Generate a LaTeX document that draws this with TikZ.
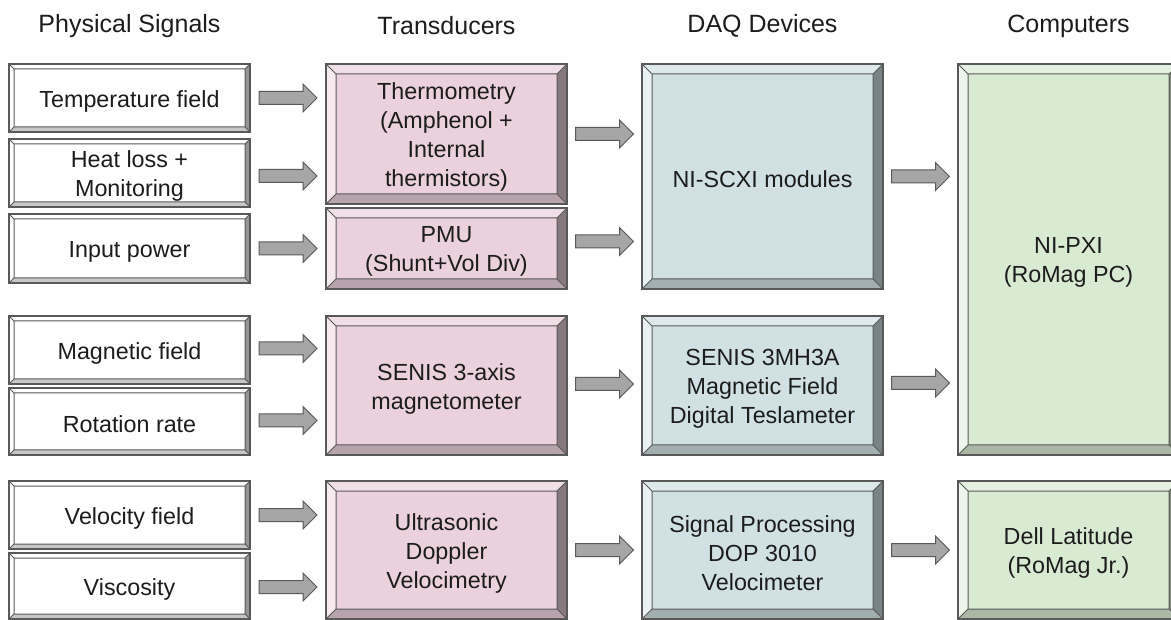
\documentclass[tikz,border=0pt]{standalone}
\usepackage{fontspec}
\setmainfont{Liberation Sans}
\usetikzlibrary{calc}
\definecolor{pinkf}{HTML}{EAD1DC}
\definecolor{bluef}{HTML}{D0E0E3}
\definecolor{greenf}{HTML}{D9EAD3}
\definecolor{edge}{HTML}{595959}
\definecolor{arrfill}{HTML}{A6A6A6}
\definecolor{txt}{HTML}{1C1C1C}
\tikzset{
  bevelbox/.style n args={2}{draw=edge, line width=1.4pt, fill=#1, inner sep=0pt,
    path picture={
      \coordinate (pNW) at (path picture bounding box.north west);
      \coordinate (pSE) at (path picture bounding box.south east);
      \coordinate (pNE) at (pSE |- pNW);
      \coordinate (pSW) at (pNW |- pSE);
      \coordinate (iNW) at ($(pNW)+(#2pt,-#2pt)$);
      \coordinate (iSE) at ($(pSE)+(-#2pt,#2pt)$);
      \coordinate (iNE) at (iSE |- iNW);
      \coordinate (iSW) at (iNW |- iSE);
      \fill[#1!70!white] (pNW) -- (pNE) -- (iNE) -- (iNW) -- cycle;
      \fill[#1!45!white] (pNW) -- (pSW) -- (iSW) -- (iNW) -- cycle;
      \fill[#1!78!black] (pSW) -- (pSE) -- (iSE) -- (iSW) -- cycle;
      \fill[#1!58!black] (pNE) -- (pSE) -- (iSE) -- (iNE) -- cycle;
      \draw[edge, line width=1pt] (iNW) rectangle (iSE)
        (pNW) -- (iNW) (pNE) -- (iNE) (pSW) -- (iSW) (pSE) -- (iSE);
    }},
  boxtext/.style={text=txt, align=center, font=\fontsize{23.3}{29}\selectfont,
    inner sep=0pt, yshift=-3pt},
  t/.style={label={[boxtext]center:{#1}}},
  sigbox/.style={bevelbox={white}{5}, minimum width=241pt},
  trbox/.style={bevelbox={pinkf}{10}, minimum width=241pt},
  daqbox/.style={bevelbox={bluef}{10}, minimum width=241pt},
  compbox/.style={bevelbox={greenf}{10}, minimum width=221pt},
  hdr/.style={text=txt, font=\fontsize{25}{30}\selectfont, inner sep=0pt},
  blockarr/.style={fill=arrfill, draw=edge, line width=1pt, line join=miter},
}
\newcommand\blockarrow[3]{%
  \draw[blockarr] let \p1=(#1.east), \p2=(#2.west), \p3=(#1.center),
    \n1={0.5*(\x1+\x2)}, \n2={\y3+#3} in
    ({\n1-29pt},{\n2+6.5pt}) -- ({\n1+15pt},{\n2+6.5pt}) -- ({\n1+15pt},{\n2+14pt})
    -- ({\n1+29pt},{\n2}) -- ({\n1+15pt},{\n2-14pt}) -- ({\n1+15pt},{\n2-6.5pt})
    -- ({\n1-29pt},{\n2-6.5pt}) -- cycle;}
\begin{document}
\begin{tikzpicture}[x=1pt,y=-1pt]
\useasboundingbox (0,0) rectangle (1171,620);
% headers
\node[hdr] (h1) at (129.5,26) {Physical Signals};
\node[hdr] (h2) at (446.5,26) {Transducers};
\node[hdr] (h3) at (762.5,26) {DAQ Devices};
\node[hdr] (h4) at (1068.5,26) {Computers};
% physical signals
\node[sigbox, minimum height=68pt, t={Temperature field}] (temp) at (129.5,98) {};
\node[sigbox, minimum height=68pt, t={Heat loss +\\Monitoring}] (heat) at (129.5,173) {};
\node[sigbox, minimum height=69pt, t={Input power}] (power) at (129.5,248.5) {};
\node[sigbox, minimum height=68pt, t={Magnetic field}] (mag) at (129.5,350) {};
\node[sigbox, minimum height=67pt, t={Rotation rate}] (rot) at (129.5,421.5) {};
\node[sigbox, minimum height=68pt, t={Velocity field}] (vel) at (129.5,515) {};
\node[sigbox, minimum height=66pt, t={Viscosity}] (visc) at (129.5,586) {};
% transducers
\node[trbox, minimum height=140pt, t={Thermometry\\(Amphenol +\\Internal\\thermistors)}] (thermo) at (446.5,134) {};
\node[trbox, minimum height=81pt, t={PMU\\(Shunt+Vol Div)}] (pmu) at (446.5,248.5) {};
\node[trbox, minimum height=139pt, t={SENIS 3-axis\\magnetometer}] (senis) at (446.5,385.5) {};
\node[trbox, minimum height=138pt, t={Ultrasonic\\Doppler\\Velocimetry}] (udv) at (446.5,550) {};
% DAQ devices
\node[daqbox, minimum height=225pt, t={NI-SCXI modules}] (scxi) at (762.5,176.5) {};
\node[daqbox, minimum height=139pt, t={SENIS 3MH3A\\Magnetic Field\\Digital Teslameter}] (mh3a) at (762.5,385.5) {};
\node[daqbox, minimum height=138pt, t={Signal Processing\\DOP 3010\\Velocimeter}] (dop) at (762.5,550) {};
% computers
\node[compbox, minimum height=391pt, t={NI-PXI\\(RoMag PC)}] (pxi) at (1068.5,259.5) {};
\node[compbox, minimum height=138pt, t={Dell Latitude\\(RoMag Jr.)}] (dell) at (1068.5,550) {};
% arrows
\blockarrow{temp}{thermo}{0pt}
\blockarrow{heat}{thermo}{-3pt}
\blockarrow{power}{pmu}{0pt}
\blockarrow{mag}{senis}{1.5pt}
\blockarrow{rot}{senis}{1pt}
\blockarrow{vel}{udv}{0pt}
\blockarrow{visc}{udv}{-1pt}
\blockarrow{thermo}{scxi}{0pt}
\blockarrow{pmu}{scxi}{7pt}
\blockarrow{senis}{mh3a}{1.5pt}
\blockarrow{udv}{dop}{0pt}
\blockarrow{scxi}{pxi}{0pt}
\blockarrow{mh3a}{pxi}{2.5pt}
\blockarrow{dop}{dell}{0pt}
\end{tikzpicture}
\end{document}
